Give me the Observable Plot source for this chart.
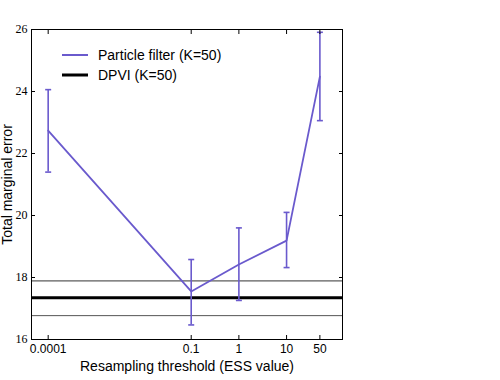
<!DOCTYPE html>
<html>
<head>
<meta charset="utf-8">
<script src="https://cdn.jsdelivr.net/npm/d3@7"></script>
<script src="https://cdn.jsdelivr.net/npm/@observablehq/plot@0.6"></script>
<style>
  html, body { margin: 0; padding: 0; background: #fff; }
  #chart { position: relative; width: 500px; height: 380px; }
  #legend { position: absolute; left: 62px; top: 45px; font: 14px "Liberation Sans", Arial, sans-serif; color: #000; }
  #legend .row { display: flex; align-items: center; height: 20px; }
  #legend .swatch { width: 26px; margin-right: 10px; }
</style>
</head>
<body>
<div id="chart"></div>
<script>
// Resampling thresholds (ESS value) and particle-filter error summaries
const thresholds = [0.0001, 0.1, 1, 10, 50];
const thresholdLabels = ["0.0001", "0.1", "1", "10", "50"];
const meanError = [22.74, 17.55, 18.42, 19.19, 24.48];
const lowError = [21.40, 16.47, 17.26, 18.32, 23.06];
const highError = [24.06, 18.58, 19.60, 20.10, 25.91];

// DPVI reference level with its band
const dpviMean = [17.35];
const dpviBand = [16.77, 17.89];

const yTicks = [16, 18, 20, 22, 24, 26];

const seriesNames = ["Particle filter (K=50)", "DPVI (K=50)"];
const pfColor = "#6a5acd";

const table = thresholds.map((t, i) => ({
  threshold: t,
  label: thresholdLabels[i],
  mean: meanError[i],
  low: lowError[i],
  high: highError[i]
}));

// short horizontal stroke used as the error-bar cap
const capSymbol = {
  draw(context, size) {
    const h = Math.sqrt(size / Math.PI);
    context.moveTo(-h, 0);
    context.lineTo(h, 0);
  }
};

const sans = '"Liberation Sans", Arial, sans-serif';
const serif = '"Liberation Serif", "DejaVu Serif", serif';

const chart = Plot.plot({
  width: 500,
  height: 380,
  marginLeft: 31,
  marginRight: 158,
  marginTop: 29,
  marginBottom: 41,
  style: { fontFamily: sans, background: "#fff", color: "#000" },
  x: { type: "log", domain: [4.47e-5, 149] },
  y: { domain: [16, 26] },
  marks: [
    Plot.ruleY([dpviBand[1]], { stroke: "#333", strokeWidth: 1 }),
    Plot.ruleY([dpviBand[0]], { stroke: "#555", strokeWidth: 1 }),
    Plot.ruleY(dpviMean, { stroke: "#000", strokeWidth: 3 }),
    Plot.line(table, { x: "threshold", y: "mean", stroke: pfColor, strokeWidth: 1.8 }),
    Plot.ruleX(table, { x: "threshold", y1: "low", y2: "high", stroke: pfColor, strokeWidth: 1.6 }),
    Plot.dot(table, { x: "threshold", y: "low", symbol: capSymbol, r: 3, stroke: pfColor, strokeWidth: 1.6, fill: "none" }),
    Plot.dot(table, { x: "threshold", y: "high", symbol: capSymbol, r: 3, stroke: pfColor, strokeWidth: 1.6, fill: "none" }),
    Plot.frame({ stroke: "#000", strokeWidth: 1 }),
    // inward ticks on all four sides
    Plot.axisY({ ticks: yTicks, anchor: "left", tickSize: -4, tickFormat: () => "", label: null }),
    Plot.axisY({ ticks: yTicks, anchor: "right", tickSize: -4, tickFormat: () => "", label: null }),
    Plot.axisX({ ticks: thresholds, anchor: "bottom", tickSize: -4, tickFormat: () => "", label: null }),
    Plot.axisX({ ticks: thresholds, anchor: "top", tickSize: -4, tickFormat: () => "", label: null }),
    // tick labels
    Plot.axisY({ ticks: yTicks, anchor: "left", tickSize: 0, tickPadding: 4, fontFamily: serif, fontSize: 12, label: null }),
    Plot.text(table, { x: "threshold", text: "label", frameAnchor: "bottom", dy: 5, lineAnchor: "top", fontSize: 12, fill: "#000" }),
    // axis titles
    Plot.text(["Resampling threshold (ESS value)"], { frameAnchor: "bottom", dy: 31, lineAnchor: "bottom", fontSize: 14, fill: "#000" }),
    Plot.text(["Total marginal error"], { frameAnchor: "left", rotate: -90, dx: -24, textAnchor: "middle", lineAnchor: "middle", fontSize: 14, fill: "#000" })
  ]
});

const root = document.getElementById("chart");
root.appendChild(chart);

// legend drawn over the upper-left corner of the plot area
const legend = document.createElement("div");
legend.id = "legend";
const swatches = [
  { color: pfColor, width: 2 },
  { color: "#000", width: 3 }
];
seriesNames.forEach((name, i) => {
  const row = document.createElement("div");
  row.className = "row";
  row.innerHTML = `<svg class="swatch" width="26" height="6"><line x1="0" x2="26" y1="3" y2="3" stroke="${swatches[i].color}" stroke-width="${swatches[i].width}"/></svg><span>${name}</span>`;
  legend.appendChild(row);
});
root.appendChild(legend);
</script>
</body>
</html>
